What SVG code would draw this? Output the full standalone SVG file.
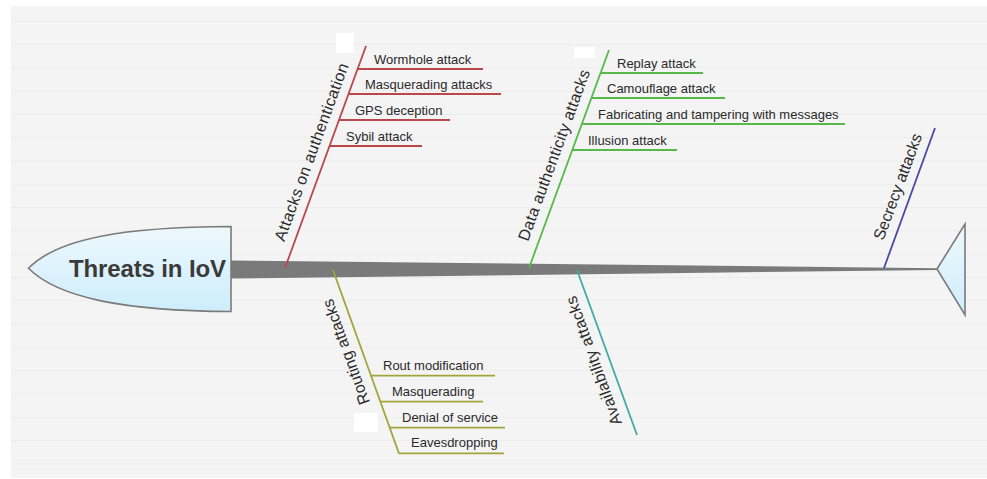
<svg xmlns="http://www.w3.org/2000/svg" width="987" height="479" viewBox="0 0 987 479">
  <defs>
    <pattern id="ruled" x="0" y="-1.6" width="40" height="23.3" patternUnits="userSpaceOnUse">
      <rect width="40" height="23.3" fill="#f4f4f4"/>
      <line x1="0" y1="23" x2="40" y2="23" stroke="#eaeaea" stroke-width="1"/>
    </pattern>
    <linearGradient id="capFill" x1="0" y1="0" x2="0" y2="1">
      <stop offset="0" stop-color="#eef8fd"/>
      <stop offset="1" stop-color="#cdedfb"/>
    </linearGradient>
    <style>
      .title { font-family: "Liberation Sans", Arial, sans-serif; font-weight: bold; font-size: 24px; fill: #3a3a3a; }
      .cat { font-family: "Liberation Sans", Arial, sans-serif; font-size: 16px; fill: #2a2a2a; }
      .item { font-family: "Liberation Sans", Arial, sans-serif; font-size: 13px; fill: #2a2a2a; }
      .bone { fill: none; stroke-width: 1.8; stroke-linecap: butt; }
      .auth { stroke: #b9474c; }
      .data { stroke: #58b84a; }
      .secr { stroke: #4a4aa6; }
      .rout { stroke: #a3a33c; }
      .avail { stroke: #40aaa6; }
      .cap { fill: url(#capFill); stroke: #7a7a7a; stroke-width: 1.6; }
    </style>
  </defs>

  <!-- ruled paper background -->
  <rect x="0" y="0" width="987" height="479" fill="#ffffff"/>
  <rect x="11" y="6" width="976" height="472" fill="url(#ruled)"/>
  <rect x="336" y="33" width="18" height="20" fill="#ffffff"/>
  <rect x="574" y="47" width="21" height="11" fill="#ffffff"/>
  <rect x="354" y="413" width="24" height="19" fill="#ffffff"/>

  <!-- spine and bones -->
  <g id="connectors">
    <polygon points="231,260.5 937,268.2 937,270 231,278.5" fill="#7a7a7a"/>

    <!-- Attacks on authentication -->
    <line class="bone auth" x1="285" y1="268" x2="366" y2="46"/>
    <line class="bone auth" x1="357.6" y1="69" x2="483" y2="69"/>
    <line class="bone auth" x1="348.5" y1="94" x2="501" y2="94"/>
    <line class="bone auth" x1="339" y1="120" x2="450" y2="120"/>
    <line class="bone auth" x1="329.5" y1="146" x2="422" y2="146"/>

    <!-- Data authenticity attacks -->
    <line class="bone data" x1="529" y1="268" x2="609" y2="50"/>
    <line class="bone data" x1="600.6" y1="73" x2="703" y2="73"/>
    <line class="bone data" x1="591.4" y1="98" x2="725" y2="98"/>
    <line class="bone data" x1="581.8" y1="124" x2="845" y2="124"/>
    <line class="bone data" x1="572.3" y1="150" x2="677" y2="150"/>

    <!-- Secrecy attacks -->
    <line class="bone secr" x1="884" y1="268" x2="935" y2="128"/>

    <!-- Routing attacks -->
    <line class="bone rout" x1="333" y1="270" x2="399" y2="453.5"/>
    <line class="bone rout" x1="371.1" y1="375.7" x2="495" y2="375.7"/>
    <line class="bone rout" x1="380.5" y1="401.7" x2="483" y2="401.7"/>
    <line class="bone rout" x1="389.9" y1="427.7" x2="505" y2="427.7"/>
    <line class="bone rout" x1="399" y1="453.3" x2="504" y2="453.3"/>

    <!-- Availability attacks -->
    <line class="bone avail" x1="577" y1="270" x2="637" y2="435"/>
  </g>

  <!-- head -->
  <g id="head">
    <path class="cap" d="M28.5,268.3 C58,238 125,227 231,226.5 L231,311.5 C125,311 58,298 28.5,268.3 Z"/>
    <text class="title" x="69" y="277" textLength="157">Threats in IoV</text>
  </g>

  <!-- tail -->
  <g id="tail">
    <polygon class="cap" points="937,269 965,224 965,315"/>
  </g>

  <g id="auth">
    <text class="cat" transform="translate(285,268) rotate(-69.95)" x="24" y="-9.5" textLength="188">Attacks on authentication</text>
    <text class="item" x="374" y="64">Wormhole attack</text>
    <text class="item" x="365" y="89">Masquerading attacks</text>
    <text class="item" x="355" y="115">GPS deception</text>
    <text class="item" x="346" y="141">Sybil attack</text>
  </g>

  <g id="data">
    <text class="cat" transform="translate(529,268) rotate(-69.85)" x="24" y="-10" textLength="181">Data authenticity attacks</text>
    <text class="item" x="617" y="67.5">Replay attack</text>
    <text class="item" x="607" y="92.5">Camouflage attack</text>
    <text class="item" x="598" y="118.5">Fabricating and tampering with messages</text>
    <text class="item" x="588" y="144.5">Illusion attack</text>
  </g>

  <g id="secrecy">
    <text class="cat" transform="translate(884,268) rotate(-69.6)" x="25" y="-10" textLength="112">Secrecy attacks</text>
  </g>

  <g id="routing">
    <text class="cat" transform="translate(399,453.5) rotate(-109.83)" x="58" y="-10" textLength="111">Routing attacks</text>
    <text class="item" x="383" y="369.5">Rout modification</text>
    <text class="item" x="392" y="395.5">Masquerading</text>
    <text class="item" x="402" y="421.5">Denial of service</text>
    <text class="item" x="411" y="447">Eavesdropping</text>
  </g>

  <g id="availability">
    <text class="cat" transform="translate(637,435) rotate(-109.98)" x="16.5" y="-10" textLength="136">Availability attacks</text>
  </g>
</svg>
